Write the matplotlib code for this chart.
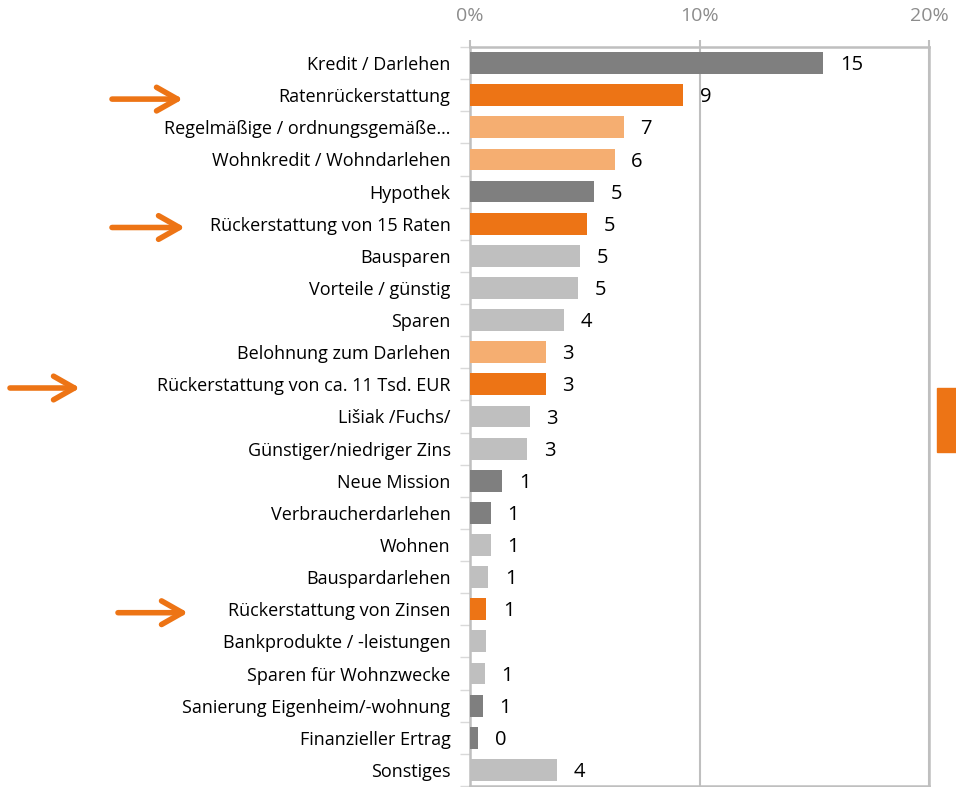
import matplotlib.pyplot as plt
import matplotlib.patches as mpatches
import numpy as np

# Kategorien und Werte (Prozent)
kategorien = [
    "Kredit / Darlehen", "Ratenrückerstattung", "Regelmäßige / ordnungsgemäße…",
    "Wohnkredit / Wohndarlehen", "Hypothek", "Rückerstattung von 15 Raten",
    "Bausparen", "Vorteile / günstig", "Sparen", "Belohnung zum Darlehen",
    "Rückerstattung von ca. 11 Tsd. EUR", "Lišiak /Fuchs/", "Günstiger/niedriger Zins",
    "Neue Mission", "Verbraucherdarlehen", "Wohnen", "Bauspardarlehen",
    "Rückerstattung von Zinsen", "Bankprodukte / -leistungen", "Sparen für Wohnzwecke",
    "Sanierung Eigenheim/-wohnung", "Finanzieller Ertrag", "Sonstiges",
]
werte = [15.4, 9.3, 6.7, 6.3, 5.4, 5.1, 4.8, 4.7, 4.1, 3.3, 3.3, 2.6, 2.5,
         1.4, 0.9, 0.9, 0.8, 0.7, 0.7, 0.65, 0.55, 0.35, 3.8]
beschriftung = ["15", "9", "7", "6", "5", "5", "5", "5", "4", "3", "3", "3", "3",
                "1", "1", "1", "1", "1", "", "1", "1", "0", "4"]
gruppe = ["d", "o", "l", "l", "d", "o", "g", "g", "g", "l", "o", "g", "g",
          "d", "d", "g", "g", "o", "g", "g", "d", "d", "g"]
pfeil_zeilen = [1, 5, 10, 17]

farben = {"d": "#7f7f7f", "o": "#ed7415", "l": "#f5ae71", "g": "#bfbfbf"}
rahmen = "#bfbfbf"

fig = plt.figure(figsize=(9.56, 7.87), dpi=100)
ax = fig.add_axes([0.4916, 0.0013, 0.4802, 0.9390])

y = np.arange(len(kategorien))
ax.barh(y, werte, height=0.68, color=[farben[g] for g in gruppe], zorder=3)

for yi, w, t in zip(y, werte, beschriftung):
    if t:
        ax.annotate(t, (w, yi), xytext=(12, -1.5), textcoords="offset points",
                    ha="left", va="center", fontsize=14.5, color="#000000",
                    family="Open Sans")

ax.set_xlim(0, 20)
ax.set_ylim(len(kategorien) - 0.5, -0.5)
ax.set_xticks([0, 10, 20])
ax.set_xticklabels(["0%", "10%", "20%"])
ax.xaxis.tick_top()
ax.tick_params(axis="x", colors=rahmen, labelcolor="#8c8c8c", labelsize=14,
               length=5, width=1.5, pad=11)
for lbl in ax.get_xticklabels():
    lbl.set_family("Open Sans")
ax.grid(axis="x", color=rahmen, linewidth=1.5, zorder=1)

ax.set_yticks(y)
ax.set_yticklabels(kategorien, family="Open Sans", fontsize=13)
ax.tick_params(axis="y", length=0, pad=14)
ax.set_yticks(np.arange(-0.5, len(kategorien), 1), minor=True)
ax.tick_params(axis="y", which="minor", length=7, color="#d9d9d9", width=1)

for s in ax.spines.values():
    s.set_color(rahmen)
    s.set_linewidth(1.8)

# Pfeile links (Pixelpositionen im Bild)
pfeil_x = {1: (112, 183), 5: (112, 185), 10: (10, 80), 17: (118, 188)}
for z in pfeil_zeilen:
    x0, x1 = pfeil_x[z]
    ypix = 63 + 32.1 * z + 4
    fy = 1 - ypix / 787
    ax.annotate("", xy=(x1 / 956, fy), xytext=(x0 / 956, fy),
                xycoords="figure fraction", textcoords="figure fraction",
                arrowprops=dict(arrowstyle="->,head_length=1.5,head_width=0.85",
                                color="#ed7415", lw=4, capstyle="round",
                                joinstyle="round", shrinkA=0, shrinkB=0),
                annotation_clip=False)

# Oranges Rechteck rechts
fig.patches.append(mpatches.Rectangle((937 / 956, 1 - 452 / 787), 20 / 956, 64 / 787,
                                      transform=fig.transFigure, color="#ed7415"))

fig.savefig("out.png", dpi=100)
